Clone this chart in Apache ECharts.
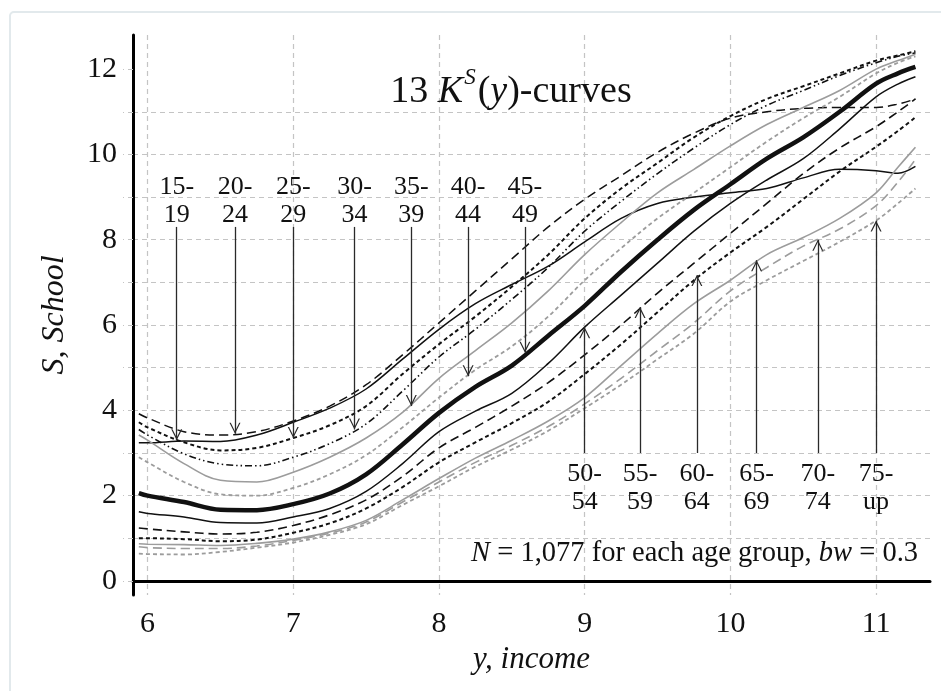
<!DOCTYPE html>
<html>
<head>
<meta charset="utf-8">
<style>
  html, body { margin: 0; padding: 0; background: #fff; }
  #chart { width: 941px; height: 691px; }
</style>
<script src="https://cdn.jsdelivr.net/npm/echarts@6/dist/echarts.min.js"></script>
</head>
<body>
<div id="chart"></div>
<script>
// ---- data ----
const incomeX = [5.94, 6.0, 6.25, 6.5, 6.75, 7.0, 7.25, 7.5, 7.75, 8.0, 8.25, 8.5, 8.75, 9.0, 9.25, 9.5, 9.75, 10.0, 10.25, 10.5, 10.75, 11.0, 11.15, 11.27];

const age15_19 = [3.24, 3.24, 3.28, 3.27, 3.42, 3.72, 4.05, 4.5, 5.2, 5.9, 6.5, 6.95, 7.38, 7.95, 8.5, 8.85, 9.0, 9.1, 9.2, 9.45, 9.65, 9.62, 9.56, 9.72];
const age20_24 = [3.92, 3.82, 3.5, 3.42, 3.5, 3.75, 4.1, 4.6, 5.3, 6.05, 6.8, 7.55, 8.3, 8.95, 9.5, 10.05, 10.5, 10.85, 11.0, 11.08, 11.1, 11.1, 11.18, 11.3];
const age25_29 = [3.72, 3.6, 3.25, 3.06, 3.12, 3.35, 3.65, 4.1, 4.85, 5.55, 6.2, 6.9, 7.65, 8.5, 9.2, 9.8, 10.4, 10.9, 11.3, 11.6, 11.9, 12.2, 12.32, 12.42];
const age30_34 = [3.55, 3.42, 2.98, 2.74, 2.7, 2.9, 3.22, 3.68, 4.45, 5.25, 5.9, 6.6, 7.35, 8.2, 8.9, 9.55, 10.15, 10.7, 11.15, 11.5, 11.85, 12.15, 12.3, 12.38];
const age35_39 = [3.42, 3.3, 2.75, 2.36, 2.32, 2.55, 2.9, 3.35, 3.95, 4.75, 5.4, 6.05, 6.8, 7.65, 8.4, 9.1, 9.65, 10.2, 10.7, 11.1, 11.5, 12.0, 12.2, 12.35];
const age40_44 = [2.9, 2.78, 2.32, 2.03, 2.0, 2.18, 2.5, 2.95, 3.6, 4.3, 4.95, 5.5, 6.2, 7.05, 7.8, 8.5, 9.1, 9.7, 10.3, 10.85, 11.35, 11.9, 12.15, 12.3];
const age45_49 = [2.06, 2.0, 1.85, 1.67, 1.66, 1.8, 2.05, 2.5, 3.2, 3.94, 4.55, 5.05, 5.75, 6.45, 7.25, 8.0, 8.7, 9.3, 9.9, 10.4, 11.0, 11.66, 11.9, 12.05];
const age50_54 = [1.62, 1.58, 1.5, 1.37, 1.36, 1.5, 1.7, 2.1, 2.75, 3.5, 3.98, 4.4, 5.1, 5.95, 6.7, 7.45, 8.2, 8.85, 9.4, 9.9, 10.6, 11.35, 11.65, 11.82];
const age55_59 = [1.24, 1.22, 1.15, 1.1, 1.14, 1.3, 1.55, 1.9, 2.45, 3.12, 3.6, 4.1, 4.65, 5.3, 6.0, 6.75, 7.45, 8.15, 8.85, 9.55, 10.15, 10.65, 11.0, 11.3];
const age60_64 = [1.0, 1.0, 0.98, 0.93, 0.97, 1.13, 1.35, 1.7, 2.2, 2.78, 3.25, 3.7, 4.2, 4.85, 5.55, 6.3, 7.05, 7.7, 8.3, 8.95, 9.6, 10.18, 10.55, 10.87];
const age65_69 = [0.87, 0.86, 0.85, 0.83, 0.88, 0.98, 1.15, 1.42, 1.9, 2.4, 2.88, 3.3, 3.75, 4.3, 5.05, 5.8, 6.5, 7.05, 7.65, 8.05, 8.5, 9.1, 9.7, 10.17];
const age70_74 = [0.8, 0.78, 0.76, 0.76, 0.82, 0.95, 1.12, 1.38, 1.85, 2.32, 2.78, 3.18, 3.62, 4.15, 4.75, 5.4, 6.05, 6.8, 7.35, 7.85, 8.25, 8.8, 9.35, 9.88];
const age75_up = [0.64, 0.63, 0.62, 0.68, 0.78, 0.9, 1.08, 1.33, 1.78, 2.22, 2.68, 3.08, 3.52, 4.05, 4.6, 5.2, 5.8, 6.55, 7.05, 7.5, 7.95, 8.45, 8.85, 9.2];

const arrowLabels = ['15-\n19', '20-\n24', '25-\n29', '30-\n34', '35-\n39', '40-\n44', '45-\n49', '50-\n54', '55-\n59', '60-\n64', '65-\n69', '70-\n74', '75-\nup'];
const arrowX   = [6.2, 6.6, 7.0, 7.42, 7.81, 8.2, 8.59, 9.0, 9.38, 9.77, 10.18, 10.6, 11.0];
const arrowTip = [3.3, 3.45, 3.35, 3.55, 4.1, 4.8, 5.35, 5.95, 6.42, 7.17, 7.52, 8.0, 8.45];
const arrowTail = [8.3, 8.3, 8.3, 8.3, 8.3, 8.3, 8.3, 3.0, 3.0, 3.0, 3.0, 3.0, 3.0];

const yTickValues = [0, 1, 2, 3, 4, 5, 6, 7, 8, 9, 10, 11, 12];
const yLabelValues = [0, 2, 4, 6, 8, 10, 12];
const xLabelValues = [6, 7, 8, 9, 10, 11];

// ---- styles ----
const FONT = '"Liberation Serif", "Times New Roman", serif';
const BLACK = '#111';
const GRAY = '#9c9c9c';
const SHORT = [4, 3];
const LONG = [9, 5];
const DDOT = [7, 3, 1.5, 3, 1.5, 3];

const curves = [
  { name: '15-19', data: age15_19, color: BLACK, width: 1.5, type: 'solid' },
  { name: '20-24', data: age20_24, color: BLACK, width: 1.5, type: LONG },
  { name: '25-29', data: age25_29, color: BLACK, width: 2, type: SHORT },
  { name: '30-34', data: age30_34, color: BLACK, width: 1.6, type: DDOT },
  { name: '35-39', data: age35_39, color: GRAY, width: 1.6, type: 'solid' },
  { name: '40-44', data: age40_44, color: GRAY, width: 1.8, type: SHORT },
  { name: '45-49', data: age45_49, color: BLACK, width: 4.5, type: 'solid' },
  { name: '50-54', data: age50_54, color: BLACK, width: 1.5, type: 'solid' },
  { name: '55-59', data: age55_59, color: BLACK, width: 1.6, type: LONG },
  { name: '60-64', data: age60_64, color: BLACK, width: 2, type: SHORT },
  { name: '65-69', data: age65_69, color: GRAY, width: 1.6, type: 'solid' },
  { name: '70-74', data: age70_74, color: GRAY, width: 1.6, type: LONG },
  { name: '75-up', data: age75_up, color: GRAY, width: 1.8, type: SHORT }
];

const series = curves.map(c => ({
  name: c.name,
  type: 'line',
  data: incomeX.map((x, i) => [x, c.data[i]]),
  smooth: 0.35,
  showSymbol: false,
  symbol: 'none',
  silent: true,
  lineStyle: { color: c.color, width: c.width, type: c.type, cap: 'butt' },
  z: 3
}));

// arrows
const ARROW_PATH = 'path://M5,0 L5,0 Z M5,10 L10,20 L8.8,20 L5,12.4 L1.2,20 L0,20 Z';
const arrowLabelStyle = {
  show: true,
  position: 'start',
  formatter: p => p.name,
  color: '#111',
  fontFamily: FONT,
  fontSize: 26,
  lineHeight: 28,
  align: 'center'
};
series.push({
  type: 'scatter',
  data: [],
  silent: true,
  z: 4,
  markLine: {
    silent: true,
    animation: false,
    symbol: ['none', ARROW_PATH],
    symbolSize: [11, 22],
    lineStyle: { color: '#2a2a2a', width: 1.3, type: 'solid' },
    label: arrowLabelStyle,
    emphasis: { disabled: true },
    data: arrowX.map((x, i) => [
      {
        coord: [x, arrowTail[i]],
        name: arrowLabels[i],
        label: Object.assign({}, arrowLabelStyle, { distance: arrowTail[i] > 5 ? -2 : 7 })
      },
      { coord: [x, arrowTip[i]] }
    ])
  }
});

const chart = echarts.init(document.getElementById('chart'), null, { renderer: 'canvas' });

const gridLine = { show: true, lineStyle: { color: '#c4c4c4', width: 1.2, type: [5, 4] }, showMinLine: false, showMaxLine: false };

chart.setOption({
  animation: false,
  backgroundColor: '#fff',
  grid: { left: 133, right: 11, top: 35, bottom: 96, containLabel: false },
  xAxis: {
    type: 'value',
    min: 5.9,
    max: 11.37,
    minInterval: 1,
    maxInterval: 1,
    name: 'y, income',
    nameLocation: 'middle',
    nameGap: 43,
    nameTextStyle: { fontFamily: FONT, fontStyle: 'italic', fontSize: 31, color: '#111' },
    axisLine: { show: true, onZero: true, lineStyle: { color: '#000', width: 3 } },
    axisTick: { show: false },
    axisLabel: {
      show: true,
      margin: 14,
      fontFamily: FONT,
      fontSize: 30,
      color: '#111',
      customValues: xLabelValues,
      formatter: v => (Math.abs(v - Math.round(v)) < 1e-6 ? String(Math.round(v)) : '')
    },
    splitLine: gridLine
  },
  yAxis: {
    type: 'value',
    min: -0.33,
    max: 12.8,
    minInterval: 1,
    maxInterval: 1,
    name: 'S, School',
    nameLocation: 'middle',
    nameGap: 62,
    nameTextStyle: { fontFamily: FONT, fontStyle: 'italic', fontSize: 32, color: '#111' },
    axisLine: { show: true, onZero: false, lineStyle: { color: '#000', width: 3 } },
    axisTick: { show: true, length: 10, customValues: yTickValues, lineStyle: { color: '#c4c4c4', width: 1.2, type: [5, 4] } },
    axisLabel: {
      show: true,
      margin: 16,
      fontFamily: FONT,
      fontSize: 30,
      color: '#111',
      customValues: yLabelValues,
      formatter: v => {
        const r = Math.round(v);
        return (Math.abs(v - r) < 1e-6 && r % 2 === 0 && r >= 0) ? String(r) : '';
      }
    },
    splitLine: gridLine
  },
  graphic: [
    {
      type: 'rect',
      silent: true,
      z: -10,
      shape: { x: 10, y: 12, width: 940, height: 690, r: 4 },
      style: { fill: 'none', stroke: '#e2e9ec', lineWidth: 2 }
    },
    {
      type: 'text',
      silent: true,
      x: 511,
      y: 89,
      z: 10,
      style: {
        text: '{n|13 }{i|K}{s|S}{n|(}{i|y}{n|)-curves}',
        fontFamily: FONT,
        fontSize: 38,
        fill: '#111',
        align: 'center',
        verticalAlign: 'middle',
        rich: {
          n: { fontFamily: FONT, fontSize: 38, fill: '#111', verticalAlign: 'bottom' },
          i: { fontFamily: FONT, fontSize: 38, fontStyle: 'italic', fill: '#111', verticalAlign: 'bottom' },
          s: { fontFamily: FONT, fontSize: 23, fontStyle: 'italic', fill: '#111', verticalAlign: 'bottom', padding: [0, 2, 22, 1] }
        }
      }
    },
    {
      type: 'text',
      silent: true,
      x: 918,
      y: 554,
      z: 10,
      style: {
        text: '{i|N}{n| = 1,077 for each age group, }{i|bw}{n| = 0.3}',
        fontFamily: FONT,
        fontSize: 28.5,
        fill: '#111',
        align: 'right',
        verticalAlign: 'middle',
        rich: {
          n: { fontFamily: FONT, fontSize: 28.5, fill: '#111' },
          i: { fontFamily: FONT, fontSize: 28.5, fontStyle: 'italic', fill: '#111' }
        }
      }
    }
  ],
  series: series
});
</script>
</body>
</html>
